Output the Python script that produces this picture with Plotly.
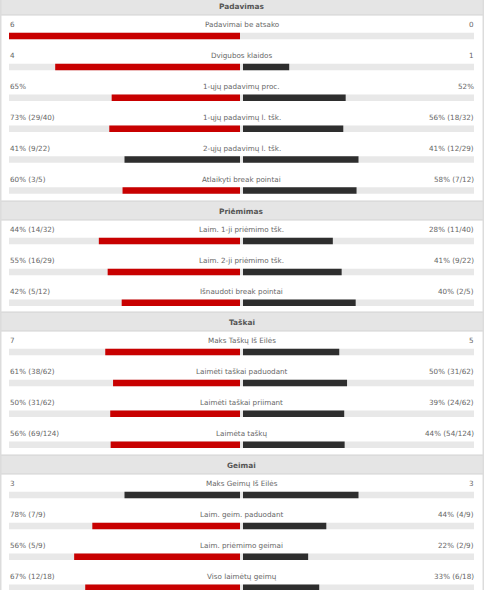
import plotly.graph_objects as go

# section titles and how many stat rows each one holds
sections = ['Padavimas', 'Priėmimas', 'Taškai', 'Geimai']
section_sizes = [6, 3, 4, 4]

labels = ['Padavimai be atsako', 'Dvigubos klaidos', '1-ųjų padavimų proc.',
          '1-ųjų padavimų l. tšk.', '2-ųjų padavimų l. tšk.', 'Atlaikyti break pointai',
          'Laim. 1-ji priėmimo tšk.', 'Laim. 2-ji priėmimo tšk.', 'Išnaudoti break pointai',
          'Maks Taškų Iš Eilės', 'Laimėti taškai paduodant', 'Laimėti taškai priimant',
          'Laimėta taškų',
          'Maks Geimų Iš Eilės', 'Laim. geim. paduodant', 'Laim. priėmimo geimai',
          'Viso laimėtų geimų']

left_text = ['6', '4', '65%', '73% (29/40)', '41% (9/22)', '60% (3/5)',
             '44% (14/32)', '55% (16/29)', '42% (5/12)',
             '7', '61% (38/62)', '50% (31/62)', '56% (69/124)',
             '3', '78% (7/9)', '56% (5/9)', '67% (12/18)']
right_text = ['0', '1', '52%', '56% (18/32)', '41% (12/29)', '58% (7/12)',
              '28% (11/40)', '41% (9/22)', '40% (2/5)',
              '5', '50% (31/62)', '39% (24/62)', '44% (54/124)',
              '3', '44% (4/9)', '22% (2/9)', '33% (6/18)']

left_val = [6, 4, 65, 73, 41, 60, 44, 55, 42, 7, 61, 50, 56, 3, 78, 56, 67]
right_val = [0, 1, 52, 56, 41, 58, 28, 41, 40, 5, 50, 39, 44, 3, 44, 22, 33]

RED = '#c80000'
DARK = '#2e2e2e'
TRACK = '#e8e8e8'
TXT = '#666666'
FONT = 'DejaVu Sans'

W, H = 484, 590
PX = 232.5                 # pixels per unit on the x axis
X0 = -1 - 9 / PX
X1 = X0 + W / PX
GAP = 1.5 / PX

# vertical layout (pixels from the top)
HEAD_H = 19
PITCH = 30.9
head_top = [-4, 201, 312, 455]

row_label_y, row_bar_y = [], []
head_mid = []
for s, n in enumerate(section_sizes):
    top = head_top[s]
    head_mid.append(top + HEAD_H / 2 + 0.5)
    for r in range(n):
        ly = top + HEAD_H + 9.5 + r * PITCH
        row_label_y.append(ly)
        row_bar_y.append(ly + 11.5)

left_frac, right_frac, left_col = [], [], []
for lv, rv in zip(left_val, right_val):
    tot = lv + rv
    left_frac.append((1 - GAP) * lv / tot)
    right_frac.append((1 - GAP) * rv / tot)
    left_col.append(RED if lv > rv else DARK)

fig = go.Figure()

BAR_W = 6.5
# grey tracks
fig.add_trace(go.Bar(y=row_bar_y, x=[2] * len(labels), base=-1, orientation='h',
                     width=BAR_W, marker=dict(color=TRACK, line_width=0),
                     hoverinfo='skip'))
fig.add_trace(go.Bar(y=row_bar_y, x=[-f for f in left_frac], base=-GAP, orientation='h',
                     width=BAR_W, marker=dict(color=left_col, line_width=0),
                     hoverinfo='skip'))
fig.add_trace(go.Bar(y=row_bar_y, x=right_frac, base=GAP, orientation='h',
                     width=BAR_W, marker=dict(color=DARK, line_width=0),
                     hoverinfo='skip'))

shapes = []
for top in head_top:
    shapes.append(dict(type='rect', xref='paper', yref='y', x0=0, x1=1,
                       y0=top, y1=top + HEAD_H, fillcolor='#e5e5e5',
                       line=dict(color='#d2d2d2', width=1), layer='below'))
# thin frame at the page edges
shapes.append(dict(type='line', xref='paper', yref='paper', x0=0.001, x1=0.001, y0=0, y1=1,
                   line=dict(color='#dcdcdc', width=2)))
shapes.append(dict(type='line', xref='paper', yref='paper', x0=0.999, x1=0.999, y0=0, y1=1,
                   line=dict(color='#dcdcdc', width=2)))

ann = []
for name, y in zip(sections, head_mid):
    ann.append(dict(x=0, y=y, xref='x', yref='y', text='<b>' + name + '</b>', showarrow=False,
                    font=dict(family=FONT, size=7.4, color='#555555'), xanchor='center',
                    yanchor='middle'))
for i, y in enumerate(row_label_y):
    ann.append(dict(x=X0 + 8 / PX, y=y, xref='x', yref='y', text=left_text[i], showarrow=False,
                    font=dict(family=FONT, size=7.2, color=TXT), xanchor='left', yanchor='middle'))
    ann.append(dict(x=0, y=y, xref='x', yref='y', text=labels[i], showarrow=False,
                    font=dict(family=FONT, size=7.2, color=TXT), xanchor='center', yanchor='middle'))
    ann.append(dict(x=X0 + 476 / PX, y=y, xref='x', yref='y', text=right_text[i], showarrow=False,
                    font=dict(family=FONT, size=7.2, color=TXT), xanchor='right', yanchor='middle'))

fig.update_layout(width=W, height=H, margin=dict(l=0, r=0, t=0, b=0),
                  paper_bgcolor='white', plot_bgcolor='white', showlegend=False,
                  barmode='overlay', shapes=shapes, annotations=ann,
                  xaxis=dict(range=[X0, X1], visible=False, fixedrange=True),
                  yaxis=dict(range=[H, 0], visible=False, fixedrange=True))

# the page has a default body margin; drop it so the figure fills the window
fig.write_html('out.html', config={'displayModeBar': False},
               post_script="document.body.style.margin='0';"
                           "document.body.style.overflow='hidden';")
